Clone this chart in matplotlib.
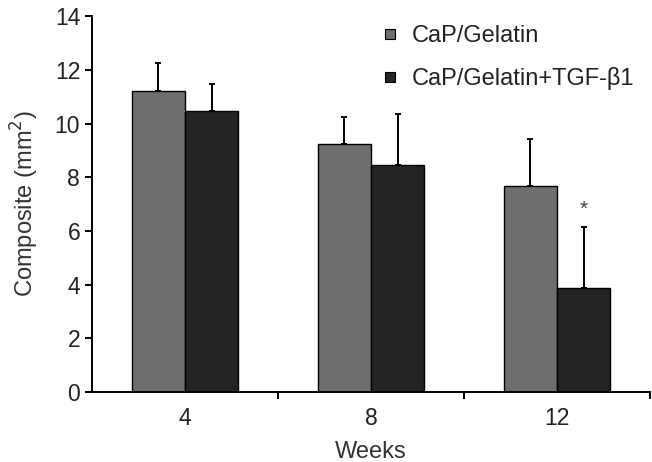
import matplotlib.pyplot as plt
from matplotlib.lines import Line2D

plt.rcParams['font.family'] = ['Liberation Sans', 'DejaVu Sans']

weeks = ['4', '8', '12']
series_names = ['CaP/Gelatin', 'CaP/Gelatin+TGF-\u03b21']
gelatin = [11.22, 9.22, 7.67]
gelatin_err = [1.03, 1.02, 1.76]
tgf = [10.45, 8.45, 3.87]
tgf_err = [1.04, 1.91, 2.28]
colors = ['#6e6e6e', '#242424']

fig = plt.figure(figsize=(6.52, 4.62), dpi=100)
ax = fig.add_axes([0.141, 0.1515, 0.856, 0.8135])

x = list(range(len(weeks)))
w = 0.287
err_kw = dict(ecolor='black', elinewidth=1.4, capsize=2.5, capthick=1.4)
ax.bar([i - w / 2 for i in x], gelatin, w, color=colors[0], edgecolor='black',
       linewidth=1.0, yerr=[[0] * 3, gelatin_err], error_kw=err_kw, zorder=2)
ax.bar([i + w / 2 for i in x], tgf, w, color=colors[1], edgecolor='black',
       linewidth=1.0, yerr=[[0] * 3, tgf_err], error_kw=err_kw, zorder=2)

# significance marker
ax.text(2 + w / 2, tgf[2] + tgf_err[2] + 0.3, '*', ha='center', va='bottom',
        fontsize=15, color='#444444')

ax.set_xlim(-0.5, 2.5)
ax.set_ylim(0, 14)
ax.set_yticks(range(0, 15, 2))
ax.set_xticks([0.5, 1.5, 2.5])
ax.set_xticklabels([])
ax.set_xticks(x, minor=True)
ax.set_xticklabels(weeks, minor=True)
ax.tick_params(axis='both', which='major', length=5, width=1.4, direction='out',
               labelsize=16.5, colors='black', labelcolor='#222222')
ax.tick_params(axis='x', which='minor', length=0, pad=11,
               labelsize=16.5, labelcolor='#222222')

for s in ['top', 'right']:
    ax.spines[s].set_visible(False)
for s in ['left', 'bottom']:
    ax.spines[s].set_linewidth(1.4)

ax.set_xlabel('Weeks', fontsize=17, color='#333333', labelpad=8)
ax.set_ylabel('Composite (mm$^2$)', fontsize=17, color='#333333', labelpad=10)

handles = [Line2D([], [], marker='s', linestyle='none', markersize=7,
                  markerfacecolor=c, markeredgecolor='black', markeredgewidth=0.8)
           for c in colors]
ax.legend(handles, series_names, loc='upper left', bbox_to_anchor=(0.475, 1.033),
          frameon=False, fontsize=17, handletextpad=0.4, labelspacing=0.85,
          handlelength=1.0, labelcolor='#222222')

fig.savefig('out.png', dpi=100)
